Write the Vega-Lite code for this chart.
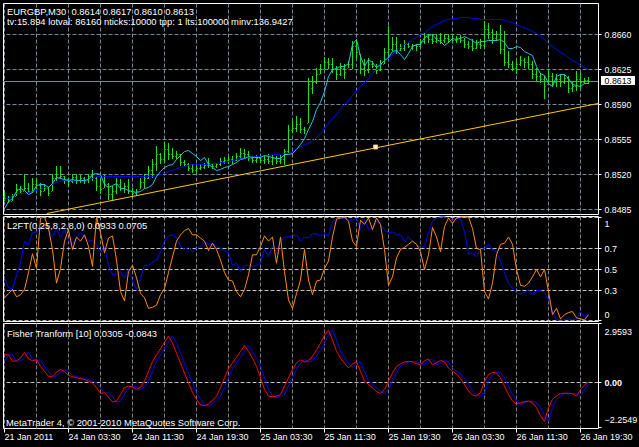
{
  "$schema": "https://vega.github.io/schema/vega-lite/v5.json",
  "background": "black",
  "padding": {"left": 2, "top": 2, "right": 5, "bottom": 7},
  "spacing": 2,
  "bounds": "flush",
  "config": {
    "view": {"stroke": "white", "strokeWidth": 1},
    "font": "Liberation Sans",
    "axis": {"title": null, "domain": false, "labelColor": "white", "labelFont": "Liberation Sans", "labelFontSize": 9, "tickColor": "white", "gridDash": [4, 2], "gridWidth": 1, "labelOverlap": false, "labelBound": false, "labelFlush": false},
    "text": {"font": "Liberation Sans", "fontSize": 9.4, "color": "white", "align": "left", "baseline": "middle"}
  },
  "datasets": {
    "bars": [
{"i":0,"high":0.8502,"low":0.8493,"open":0.8498,"close":0.8496,"fast":0.8486,"slow":0.8495,"l2ft":0.23,"l2sig":0.42,"fisher":1.39,"signal":1.06},
{"i":1,"high":0.8498,"low":0.8491,"open":0.8496,"close":0.8493,"fast":0.8493,"slow":0.8496,"l2ft":0.27,"l2sig":0.33,"fisher":1.39,"signal":1.39},
{"i":2,"high":0.85,"low":0.8493,"open":0.8493,"close":0.8498,"fast":0.8496,"slow":0.8499,"l2ft":0.31,"l2sig":0.31,"fisher":1.06,"signal":1.39},
{"i":3,"high":0.851,"low":0.8498,"open":0.8498,"close":0.8505,"fast":0.8503,"slow":0.8501,"l2ft":0.24,"l2sig":0.45,"fisher":1.09,"signal":1.06},
{"i":4,"high":0.8508,"low":0.8501,"open":0.8505,"close":0.8503,"fast":0.8506,"slow":0.8501,"l2ft":0.26,"l2sig":0.56,"fisher":1.22,"signal":1.09},
{"i":5,"high":0.852,"low":0.8503,"open":0.8503,"close":0.8506,"fast":0.8504,"slow":0.8501,"l2ft":0.31,"l2sig":0.77,"fisher":1.52,"signal":1.22},
{"i":6,"high":0.8511,"low":0.8501,"open":0.8506,"close":0.8503,"fast":0.85,"slow":0.8502,"l2ft":0.47,"l2sig":0.74,"fisher":1.19,"signal":1.52},
{"i":7,"high":0.8516,"low":0.8501,"open":0.8503,"close":0.851,"fast":0.8502,"slow":0.8503,"l2ft":0.65,"l2sig":0.85,"fisher":1.09,"signal":1.19},
{"i":8,"high":0.8516,"low":0.8505,"open":0.851,"close":0.8509,"fast":0.8509,"slow":0.8504,"l2ft":0.51,"l2sig":0.86,"fisher":1.14,"signal":1.09},
{"i":9,"high":0.8511,"low":0.8498,"open":0.8509,"close":0.8503,"fast":0.851,"slow":0.8505,"l2ft":0.99,"l2sig":0.88,"fisher":0.81,"signal":1.14},
{"i":10,"high":0.851,"low":0.8503,"open":0.8503,"close":0.8506,"fast":0.851,"slow":0.8507,"l2ft":1.0,"l2sig":0.91,"fisher":0.56,"signal":0.81},
{"i":11,"high":0.8508,"low":0.8498,"open":0.8506,"close":0.8501,"fast":0.8507,"slow":0.8508,"l2ft":0.89,"l2sig":0.88,"fisher":0.31,"signal":0.56},
{"i":12,"high":0.852,"low":0.8503,"open":0.8503,"close":0.8516,"fast":0.8511,"slow":0.851,"l2ft":0.69,"l2sig":0.81,"fisher":0.31,"signal":0.31},
{"i":13,"high":0.8528,"low":0.8513,"open":0.8516,"close":0.8517,"fast":0.8517,"slow":0.8512,"l2ft":0.37,"l2sig":0.89,"fisher":0.53,"signal":0.31},
{"i":14,"high":0.8528,"low":0.8516,"open":0.8517,"close":0.8518,"fast":0.8516,"slow":0.8513,"l2ft":0.51,"l2sig":0.8,"fisher":0.65,"signal":0.53},
{"i":15,"high":0.8518,"low":0.851,"open":0.8518,"close":0.8515,"fast":0.8515,"slow":0.8514,"l2ft":0.77,"l2sig":0.88,"fisher":0.56,"signal":0.65},
{"i":16,"high":0.8516,"low":0.8508,"open":0.8515,"close":0.8513,"fast":0.8514,"slow":0.8514,"l2ft":0.88,"l2sig":0.77,"fisher":0.35,"signal":0.56},
{"i":17,"high":0.852,"low":0.8511,"open":0.8513,"close":0.8517,"fast":0.8515,"slow":0.8514,"l2ft":0.69,"l2sig":0.74,"fisher":0.3,"signal":0.35},
{"i":18,"high":0.852,"low":0.851,"open":0.8517,"close":0.8514,"fast":0.8514,"slow":0.8514,"l2ft":0.81,"l2sig":0.81,"fisher":0.23,"signal":0.3},
{"i":19,"high":0.8519,"low":0.8511,"open":0.8514,"close":0.8516,"fast":0.8514,"slow":0.8514,"l2ft":0.77,"l2sig":0.85,"fisher":0.2,"signal":0.23},
{"i":20,"high":0.8517,"low":0.851,"open":0.8516,"close":0.8514,"fast":0.8514,"slow":0.8514,"l2ft":0.83,"l2sig":0.81,"fisher":0.15,"signal":0.2},
{"i":21,"high":0.852,"low":0.8511,"open":0.8514,"close":0.8518,"fast":0.8515,"slow":0.8515,"l2ft":0.72,"l2sig":0.77,"fisher":0.07,"signal":0.15},
{"i":22,"high":0.8524,"low":0.8513,"open":0.8518,"close":0.852,"fast":0.852,"slow":0.8516,"l2ft":0.53,"l2sig":0.78,"fisher":-0.02,"signal":0.07},
{"i":23,"high":0.8517,"low":0.8503,"open":0.8516,"close":0.8508,"fast":0.8521,"slow":0.8518,"l2ft":1.0,"l2sig":0.74,"fisher":-0.26,"signal":-0.02},
{"i":24,"high":0.8516,"low":0.85,"open":0.8508,"close":0.8505,"fast":0.852,"slow":0.8518,"l2ft":0.85,"l2sig":0.66,"fisher":-0.55,"signal":-0.26},
{"i":25,"high":0.852,"low":0.8506,"open":0.8506,"close":0.851,"fast":0.851,"slow":0.8518,"l2ft":0.66,"l2sig":0.72,"fisher":-0.51,"signal":-0.55},
{"i":26,"high":0.8511,"low":0.8494,"open":0.851,"close":0.85,"fast":0.8507,"slow":0.8518,"l2ft":0.8,"l2sig":0.54,"fisher":-0.73,"signal":-0.51},
{"i":27,"high":0.8508,"low":0.8493,"open":0.85,"close":0.8503,"fast":0.8509,"slow":0.8518,"l2ft":0.82,"l2sig":0.45,"fisher":-0.98,"signal":-0.73},
{"i":28,"high":0.8516,"low":0.85,"open":0.8503,"close":0.851,"fast":0.8511,"slow":0.8518,"l2ft":0.59,"l2sig":0.46,"fisher":-0.93,"signal":-0.98},
{"i":29,"high":0.8515,"low":0.8503,"open":0.851,"close":0.8506,"fast":0.8506,"slow":0.8518,"l2ft":0.29,"l2sig":0.48,"fisher":-0.6,"signal":-0.93},
{"i":30,"high":0.8511,"low":0.8501,"open":0.8506,"close":0.8508,"fast":0.8506,"slow":0.8518,"l2ft":0.2,"l2sig":0.42,"fisher":-0.26,"signal":-0.6},
{"i":31,"high":0.8515,"low":0.85,"open":0.8508,"close":0.8503,"fast":0.8504,"slow":0.8518,"l2ft":0.48,"l2sig":0.5,"fisher":-0.18,"signal":-0.26},
{"i":32,"high":0.8506,"low":0.8498,"open":0.8503,"close":0.8501,"fast":0.8503,"slow":0.8518,"l2ft":0.54,"l2sig":0.39,"fisher":-0.23,"signal":-0.18},
{"i":33,"high":0.8505,"low":0.8498,"open":0.8501,"close":0.8503,"fast":0.8502,"slow":0.8518,"l2ft":0.42,"l2sig":0.31,"fisher":-0.35,"signal":-0.23},
{"i":34,"high":0.8516,"low":0.8505,"open":0.8505,"close":0.8512,"fast":0.8503,"slow":0.8518,"l2ft":0.27,"l2sig":0.42,"fisher":-0.23,"signal":-0.35},
{"i":35,"high":0.852,"low":0.8506,"open":0.8512,"close":0.8516,"fast":0.8506,"slow":0.8518,"l2ft":0.23,"l2sig":0.54,"fisher":0.07,"signal":-0.23},
{"i":36,"high":0.8528,"low":0.8515,"open":0.8516,"close":0.8524,"fast":0.8507,"slow":0.8518,"l2ft":0.13,"l2sig":0.54,"fisher":0.56,"signal":0.07},
{"i":37,"high":0.8535,"low":0.8516,"open":0.8524,"close":0.853,"fast":0.851,"slow":0.8518,"l2ft":0.14,"l2sig":0.57,"fisher":1.06,"signal":0.56},
{"i":38,"high":0.8548,"low":0.8523,"open":0.853,"close":0.854,"fast":0.8518,"slow":0.8519,"l2ft":0.16,"l2sig":0.59,"fisher":1.39,"signal":1.06},
{"i":39,"high":0.8541,"low":0.853,"open":0.854,"close":0.8535,"fast":0.8523,"slow":0.852,"l2ft":0.26,"l2sig":0.67,"fisher":1.69,"signal":1.39},
{"i":40,"high":0.8552,"low":0.8531,"open":0.8535,"close":0.8545,"fast":0.8527,"slow":0.8521,"l2ft":0.32,"l2sig":0.77,"fisher":2.02,"signal":1.69},
{"i":41,"high":0.8551,"low":0.8534,"open":0.8545,"close":0.854,"fast":0.8529,"slow":0.8523,"l2ft":0.47,"l2sig":0.82,"fisher":2.33,"signal":2.02},
{"i":42,"high":0.8546,"low":0.8535,"open":0.854,"close":0.8538,"fast":0.853,"slow":0.8524,"l2ft":0.62,"l2sig":0.83,"fisher":1.97,"signal":2.33},
{"i":43,"high":0.8543,"low":0.8535,"open":0.8538,"close":0.854,"fast":0.8535,"slow":0.8526,"l2ft":0.77,"l2sig":0.8,"fisher":1.47,"signal":1.97},
{"i":44,"high":0.854,"low":0.8528,"open":0.854,"close":0.8532,"fast":0.8539,"slow":0.8527,"l2ft":0.83,"l2sig":0.72,"fisher":0.98,"signal":1.47},
{"i":45,"high":0.8534,"low":0.8528,"open":0.8532,"close":0.853,"fast":0.8543,"slow":0.8528,"l2ft":0.87,"l2sig":0.69,"fisher":0.48,"signal":0.98},
{"i":46,"high":0.8531,"low":0.8523,"open":0.853,"close":0.8526,"fast":0.8544,"slow":0.8529,"l2ft":0.89,"l2sig":0.71,"fisher":-0.02,"signal":0.48},
{"i":47,"high":0.853,"low":0.8521,"open":0.8526,"close":0.8524,"fast":0.8541,"slow":0.853,"l2ft":0.83,"l2sig":0.67,"fisher":-0.51,"signal":-0.02},
{"i":48,"high":0.853,"low":0.8521,"open":0.8524,"close":0.8526,"fast":0.8538,"slow":0.853,"l2ft":0.83,"l2sig":0.7,"fisher":-0.84,"signal":-0.51},
{"i":49,"high":0.853,"low":0.8524,"open":0.8526,"close":0.8527,"fast":0.8534,"slow":0.853,"l2ft":0.8,"l2sig":0.72,"fisher":-1.13,"signal":-0.84},
{"i":50,"high":0.8531,"low":0.8525,"open":0.8527,"close":0.8529,"fast":0.8537,"slow":0.853,"l2ft":0.77,"l2sig":0.77,"fisher":-1.16,"signal":-1.13},
{"i":51,"high":0.8536,"low":0.8526,"open":0.8529,"close":0.8531,"fast":0.853,"slow":0.853,"l2ft":0.68,"l2sig":0.74,"fisher":-1.09,"signal":-1.16},
{"i":52,"high":0.853,"low":0.8525,"open":0.853,"close":0.8528,"fast":0.8527,"slow":0.8531,"l2ft":0.75,"l2sig":0.75,"fisher":-0.89,"signal":-1.09},
{"i":53,"high":0.8531,"low":0.8526,"open":0.8528,"close":0.853,"fast":0.8524,"slow":0.8531,"l2ft":0.69,"l2sig":0.72,"fisher":-0.68,"signal":-0.89},
{"i":54,"high":0.8536,"low":0.8528,"open":0.853,"close":0.8533,"fast":0.8525,"slow":0.8532,"l2ft":0.59,"l2sig":0.7,"fisher":-0.26,"signal":-0.68},
{"i":55,"high":0.8537,"low":0.853,"open":0.8533,"close":0.8534,"fast":0.8527,"slow":0.8532,"l2ft":0.47,"l2sig":0.68,"fisher":0.23,"signal":-0.26},
{"i":56,"high":0.8538,"low":0.853,"open":0.8534,"close":0.8535,"fast":0.8528,"slow":0.8533,"l2ft":0.4,"l2sig":0.66,"fisher":0.7,"signal":0.23},
{"i":57,"high":0.8538,"low":0.853,"open":0.8535,"close":0.8534,"fast":0.853,"slow":0.8534,"l2ft":0.39,"l2sig":0.54,"fisher":0.98,"signal":0.7},
{"i":58,"high":0.8541,"low":0.8533,"open":0.8534,"close":0.8538,"fast":0.8532,"slow":0.8535,"l2ft":0.29,"l2sig":0.56,"fisher":1.26,"signal":0.98},
{"i":59,"high":0.8546,"low":0.8535,"open":0.8538,"close":0.8541,"fast":0.8535,"slow":0.8536,"l2ft":0.24,"l2sig":0.48,"fisher":1.56,"signal":1.26},
{"i":60,"high":0.8545,"low":0.8536,"open":0.8541,"close":0.854,"fast":0.8536,"slow":0.8536,"l2ft":0.31,"l2sig":0.54,"fisher":1.85,"signal":1.56},
{"i":61,"high":0.8543,"low":0.8533,"open":0.854,"close":0.8536,"fast":0.8538,"slow":0.8537,"l2ft":0.45,"l2sig":0.54,"fisher":1.56,"signal":1.85},
{"i":62,"high":0.8538,"low":0.8531,"open":0.8536,"close":0.8534,"fast":0.8537,"slow":0.8538,"l2ft":0.64,"l2sig":0.53,"fisher":1.22,"signal":1.56},
{"i":63,"high":0.8539,"low":0.8531,"open":0.8534,"close":0.8536,"fast":0.8537,"slow":0.8538,"l2ft":0.64,"l2sig":0.54,"fisher":0.81,"signal":1.22},
{"i":64,"high":0.8538,"low":0.8531,"open":0.8536,"close":0.8534,"fast":0.8537,"slow":0.8538,"l2ft":0.72,"l2sig":0.56,"fisher":0.23,"signal":0.81},
{"i":65,"high":0.8538,"low":0.853,"open":0.8534,"close":0.8535,"fast":0.8539,"slow":0.8539,"l2ft":0.82,"l2sig":0.7,"fisher":-0.35,"signal":0.23},
{"i":66,"high":0.854,"low":0.853,"open":0.8535,"close":0.8533,"fast":0.8538,"slow":0.8539,"l2ft":0.77,"l2sig":0.62,"fisher":-0.68,"signal":-0.35},
{"i":67,"high":0.8539,"low":0.8529,"open":0.8533,"close":0.8536,"fast":0.8537,"slow":0.854,"l2ft":0.81,"l2sig":0.72,"fisher":-0.71,"signal":-0.68},
{"i":68,"high":0.8538,"low":0.853,"open":0.8536,"close":0.8533,"fast":0.8536,"slow":0.854,"l2ft":0.56,"l2sig":0.66,"fisher":-0.68,"signal":-0.71},
{"i":69,"high":0.8539,"low":0.853,"open":0.8533,"close":0.8535,"fast":0.8536,"slow":0.854,"l2ft":0.81,"l2sig":0.77,"fisher":-0.6,"signal":-0.68},
{"i":70,"high":0.8545,"low":0.8529,"open":0.8535,"close":0.8543,"fast":0.854,"slow":0.8541,"l2ft":0.48,"l2sig":0.81,"fisher":-0.18,"signal":-0.6},
{"i":71,"high":0.8569,"low":0.8541,"open":0.8543,"close":0.8564,"fast":0.854,"slow":0.8541,"l2ft":0.21,"l2sig":0.81,"fisher":0.23,"signal":-0.18},
{"i":72,"high":0.8574,"low":0.8561,"open":0.8564,"close":0.8566,"fast":0.8541,"slow":0.8542,"l2ft":0.13,"l2sig":0.82,"fisher":0.65,"signal":0.23},
{"i":73,"high":0.8578,"low":0.8562,"open":0.8566,"close":0.857,"fast":0.8545,"slow":0.8546,"l2ft":0.27,"l2sig":0.83,"fisher":0.98,"signal":0.65},
{"i":74,"high":0.8576,"low":0.8561,"open":0.857,"close":0.8565,"fast":0.855,"slow":0.8548,"l2ft":0.4,"l2sig":0.77,"fisher":1.14,"signal":0.98},
{"i":75,"high":0.8567,"low":0.856,"open":0.8565,"close":0.8564,"fast":0.8556,"slow":0.855,"l2ft":0.69,"l2sig":0.81,"fisher":1.03,"signal":1.14},
{"i":76,"high":0.8616,"low":0.8571,"open":0.8571,"close":0.861,"fast":0.8565,"slow":0.8551,"l2ft":0.4,"l2sig":0.8,"fisher":1.09,"signal":1.03},
{"i":77,"high":0.8618,"low":0.86,"open":0.8606,"close":0.8612,"fast":0.8573,"slow":0.8553,"l2ft":0.26,"l2sig":0.84,"fisher":1.31,"signal":1.09},
{"i":78,"high":0.8626,"low":0.861,"open":0.8612,"close":0.862,"fast":0.8585,"slow":0.8557,"l2ft":0.39,"l2sig":0.84,"fisher":1.64,"signal":1.31},
{"i":79,"high":0.863,"low":0.862,"open":0.862,"close":0.8625,"fast":0.8592,"slow":0.8561,"l2ft":0.4,"l2sig":0.82,"fisher":1.97,"signal":1.64},
{"i":80,"high":0.8637,"low":0.8625,"open":0.8625,"close":0.8632,"fast":0.8603,"slow":0.8566,"l2ft":0.51,"l2sig":0.84,"fisher":2.38,"signal":1.97},
{"i":81,"high":0.8636,"low":0.8625,"open":0.8632,"close":0.863,"fast":0.8618,"slow":0.8571,"l2ft":0.58,"l2sig":0.82,"fisher":2.63,"signal":2.38},
{"i":82,"high":0.8636,"low":0.8621,"open":0.863,"close":0.8625,"fast":0.8625,"slow":0.8576,"l2ft":0.81,"l2sig":0.96,"fisher":2.13,"signal":2.63},
{"i":83,"high":0.8628,"low":0.8614,"open":0.8625,"close":0.862,"fast":0.8626,"slow":0.858,"l2ft":0.98,"l2sig":0.99,"fisher":1.56,"signal":2.13},
{"i":84,"high":0.8631,"low":0.8618,"open":0.862,"close":0.8626,"fast":0.8628,"slow":0.8585,"l2ft":0.99,"l2sig":0.99,"fisher":1.22,"signal":1.56},
{"i":85,"high":0.863,"low":0.8615,"open":0.8626,"close":0.8622,"fast":0.8628,"slow":0.859,"l2ft":1.0,"l2sig":0.99,"fisher":0.98,"signal":1.22},
{"i":86,"high":0.8633,"low":0.8626,"open":0.8626,"close":0.863,"fast":0.8631,"slow":0.8594,"l2ft":0.96,"l2sig":0.97,"fisher":0.73,"signal":0.98},
{"i":87,"high":0.8653,"low":0.8625,"open":0.863,"close":0.8648,"fast":0.865,"slow":0.8599,"l2ft":0.77,"l2sig":0.97,"fisher":0.93,"signal":0.73},
{"i":88,"high":0.8655,"low":0.8636,"open":0.8648,"close":0.8642,"fast":0.8655,"slow":0.8604,"l2ft":0.72,"l2sig":0.99,"fisher":1.03,"signal":0.93},
{"i":89,"high":0.864,"low":0.862,"open":0.864,"close":0.8626,"fast":0.8638,"slow":0.8608,"l2ft":0.97,"l2sig":0.88,"fisher":0.56,"signal":1.03},
{"i":90,"high":0.8635,"low":0.8618,"open":0.8626,"close":0.8624,"fast":0.8628,"slow":0.8612,"l2ft":0.93,"l2sig":0.97,"fisher":0.07,"signal":0.56},
{"i":91,"high":0.8636,"low":0.8621,"open":0.8624,"close":0.863,"fast":0.8635,"slow":0.8616,"l2ft":0.99,"l2sig":0.88,"fisher":-0.1,"signal":0.07},
{"i":92,"high":0.8633,"low":0.8626,"open":0.863,"close":0.8628,"fast":0.8632,"slow":0.8621,"l2ft":0.88,"l2sig":0.89,"fisher":-0.26,"signal":-0.1},
{"i":93,"high":0.863,"low":0.862,"open":0.8628,"close":0.8624,"fast":0.8627,"slow":0.8625,"l2ft":0.99,"l2sig":0.96,"fisher":-0.46,"signal":-0.26},
{"i":94,"high":0.8634,"low":0.8623,"open":0.8624,"close":0.863,"fast":0.863,"slow":0.863,"l2ft":0.93,"l2sig":0.93,"fisher":-0.55,"signal":-0.46},
{"i":95,"high":0.8646,"low":0.863,"open":0.863,"close":0.8642,"fast":0.8634,"slow":0.8634,"l2ft":0.69,"l2sig":0.88,"fisher":-0.35,"signal":-0.55},
{"i":96,"high":0.8668,"low":0.8636,"open":0.8642,"close":0.8645,"fast":0.8637,"slow":0.8636,"l2ft":0.35,"l2sig":0.85,"fisher":0.07,"signal":-0.35},
{"i":97,"high":0.8657,"low":0.8643,"open":0.8645,"close":0.865,"fast":0.8643,"slow":0.864,"l2ft":0.43,"l2sig":0.86,"fisher":0.48,"signal":0.07},
{"i":98,"high":0.8657,"low":0.864,"open":0.865,"close":0.8644,"fast":0.8644,"slow":0.8644,"l2ft":0.61,"l2sig":0.83,"fisher":0.81,"signal":0.48},
{"i":99,"high":0.865,"low":0.8643,"open":0.8644,"close":0.8646,"fast":0.864,"slow":0.8647,"l2ft":0.69,"l2sig":0.83,"fisher":0.94,"signal":0.81},
{"i":100,"high":0.8654,"low":0.8643,"open":0.8646,"close":0.865,"fast":0.8635,"slow":0.865,"l2ft":0.71,"l2sig":0.77,"fisher":1.03,"signal":0.94},
{"i":101,"high":0.8651,"low":0.8646,"open":0.865,"close":0.8648,"fast":0.8641,"slow":0.8652,"l2ft":0.74,"l2sig":0.81,"fisher":1.06,"signal":1.03},
{"i":102,"high":0.865,"low":0.8644,"open":0.8648,"close":0.8649,"fast":0.8648,"slow":0.8655,"l2ft":0.77,"l2sig":0.76,"fisher":1.03,"signal":1.06},
{"i":103,"high":0.865,"low":0.8643,"open":0.8649,"close":0.8648,"fast":0.865,"slow":0.8657,"l2ft":0.74,"l2sig":0.74,"fisher":0.94,"signal":1.03},
{"i":104,"high":0.8655,"low":0.8646,"open":0.8648,"close":0.8653,"fast":0.865,"slow":0.866,"l2ft":0.67,"l2sig":0.71,"fisher":0.89,"signal":0.94},
{"i":105,"high":0.8661,"low":0.865,"open":0.8653,"close":0.8657,"fast":0.8657,"slow":0.8662,"l2ft":0.5,"l2sig":0.72,"fisher":1.09,"signal":0.89},
{"i":106,"high":0.866,"low":0.8651,"open":0.8657,"close":0.8655,"fast":0.8659,"slow":0.8665,"l2ft":0.64,"l2sig":0.85,"fisher":1.18,"signal":1.09},
{"i":107,"high":0.866,"low":0.865,"open":0.8655,"close":0.8653,"fast":0.866,"slow":0.8668,"l2ft":0.9,"l2sig":0.96,"fisher":0.89,"signal":1.18},
{"i":108,"high":0.866,"low":0.8651,"open":0.8653,"close":0.8656,"fast":0.8655,"slow":0.867,"l2ft":0.81,"l2sig":0.99,"fisher":0.98,"signal":0.89},
{"i":109,"high":0.8661,"low":0.865,"open":0.8656,"close":0.8654,"fast":0.8653,"slow":0.8672,"l2ft":0.67,"l2sig":1.0,"fisher":1.11,"signal":0.98},
{"i":110,"high":0.866,"low":0.8651,"open":0.8654,"close":0.8656,"fast":0.8649,"slow":0.8674,"l2ft":0.91,"l2sig":1.0,"fisher":1.03,"signal":1.11},
{"i":111,"high":0.866,"low":0.8651,"open":0.8656,"close":0.8655,"fast":0.8652,"slow":0.8675,"l2ft":0.99,"l2sig":0.99,"fisher":0.73,"signal":1.03},
{"i":112,"high":0.866,"low":0.8651,"open":0.8655,"close":0.8654,"fast":0.8656,"slow":0.8676,"l2ft":0.94,"l2sig":0.97,"fisher":0.56,"signal":0.73},
{"i":113,"high":0.8658,"low":0.8651,"open":0.8654,"close":0.8656,"fast":0.8655,"slow":0.8676,"l2ft":0.99,"l2sig":0.99,"fisher":0.43,"signal":0.56},
{"i":114,"high":0.8659,"low":0.8651,"open":0.8656,"close":0.8654,"fast":0.8656,"slow":0.8677,"l2ft":1.0,"l2sig":0.98,"fisher":0.2,"signal":0.43},
{"i":115,"high":0.8656,"low":0.8646,"open":0.8654,"close":0.865,"fast":0.8658,"slow":0.8677,"l2ft":1.0,"l2sig":0.86,"fisher":-0.1,"signal":0.2},
{"i":116,"high":0.8653,"low":0.8645,"open":0.865,"close":0.8648,"fast":0.8656,"slow":0.8677,"l2ft":1.0,"l2sig":0.65,"fisher":-0.43,"signal":-0.1},
{"i":117,"high":0.8655,"low":0.8643,"open":0.8648,"close":0.8646,"fast":0.8654,"slow":0.8676,"l2ft":0.89,"l2sig":0.66,"fisher":-0.63,"signal":-0.43},
{"i":118,"high":0.8654,"low":0.8645,"open":0.8646,"close":0.865,"fast":0.8651,"slow":0.8676,"l2ft":0.7,"l2sig":0.62,"fisher":-0.68,"signal":-0.63},
{"i":119,"high":0.8655,"low":0.8645,"open":0.865,"close":0.8649,"fast":0.8653,"slow":0.8675,"l2ft":0.69,"l2sig":0.69,"fisher":-0.51,"signal":-0.68},
{"i":120,"high":0.8673,"low":0.8646,"open":0.8649,"close":0.8665,"fast":0.8653,"slow":0.8675,"l2ft":0.29,"l2sig":0.7,"fisher":0.07,"signal":-0.51},
{"i":121,"high":0.8671,"low":0.8655,"open":0.8665,"close":0.8662,"fast":0.8654,"slow":0.8675,"l2ft":0.22,"l2sig":0.74,"fisher":0.4,"signal":0.07},
{"i":122,"high":0.8665,"low":0.865,"open":0.8662,"close":0.8656,"fast":0.8654,"slow":0.8675,"l2ft":0.37,"l2sig":0.69,"fisher":0.51,"signal":0.4},
{"i":123,"high":0.8663,"low":0.8653,"open":0.8656,"close":0.866,"fast":0.8654,"slow":0.8675,"l2ft":0.64,"l2sig":0.67,"fisher":0.48,"signal":0.51},
{"i":124,"high":0.8669,"low":0.864,"open":0.866,"close":0.8645,"fast":0.8655,"slow":0.8675,"l2ft":0.74,"l2sig":0.58,"fisher":0.23,"signal":0.48},
{"i":125,"high":0.8663,"low":0.8628,"open":0.8645,"close":0.8632,"fast":0.8652,"slow":0.8674,"l2ft":0.75,"l2sig":0.47,"fisher":-0.18,"signal":0.23},
{"i":126,"high":0.8643,"low":0.8626,"open":0.8632,"close":0.863,"fast":0.8646,"slow":0.8673,"l2ft":0.81,"l2sig":0.37,"fisher":-0.6,"signal":-0.18},
{"i":127,"high":0.8633,"low":0.8623,"open":0.863,"close":0.8626,"fast":0.8646,"slow":0.8672,"l2ft":0.74,"l2sig":0.32,"fisher":-0.93,"signal":-0.6},
{"i":128,"high":0.8633,"low":0.862,"open":0.8626,"close":0.863,"fast":0.8648,"slow":0.867,"l2ft":0.5,"l2sig":0.27,"fisher":-1.09,"signal":-0.93},
{"i":129,"high":0.8638,"low":0.8628,"open":0.863,"close":0.8634,"fast":0.8647,"slow":0.8668,"l2ft":0.35,"l2sig":0.27,"fisher":-1.01,"signal":-1.09},
{"i":130,"high":0.8636,"low":0.8626,"open":0.8634,"close":0.8632,"fast":0.8643,"slow":0.8667,"l2ft":0.34,"l2sig":0.28,"fisher":-0.96,"signal":-1.01},
{"i":131,"high":0.8638,"low":0.8625,"open":0.8632,"close":0.863,"fast":0.8641,"slow":0.8665,"l2ft":0.37,"l2sig":0.31,"fisher":-0.93,"signal":-0.96},
{"i":132,"high":0.8633,"low":0.8615,"open":0.863,"close":0.862,"fast":0.8639,"slow":0.8663,"l2ft":0.43,"l2sig":0.26,"fisher":-1.01,"signal":-0.93},
{"i":133,"high":0.8626,"low":0.8613,"open":0.862,"close":0.8618,"fast":0.8628,"slow":0.8661,"l2ft":0.5,"l2sig":0.3,"fisher":-1.26,"signal":-1.01},
{"i":134,"high":0.8621,"low":0.8611,"open":0.8618,"close":0.8615,"fast":0.8621,"slow":0.8658,"l2ft":0.43,"l2sig":0.3,"fisher":-1.67,"signal":-1.26},
{"i":135,"high":0.8618,"low":0.8595,"open":0.8615,"close":0.8608,"fast":0.8619,"slow":0.8655,"l2ft":0.5,"l2sig":0.28,"fisher":-1.95,"signal":-1.67},
{"i":136,"high":0.8625,"low":0.861,"open":0.861,"close":0.8618,"fast":0.8611,"slow":0.8651,"l2ft":0.29,"l2sig":0.21,"fisher":-1.26,"signal":-1.95},
{"i":137,"high":0.8621,"low":0.8607,"open":0.8618,"close":0.8612,"fast":0.8608,"slow":0.8648,"l2ft":0.07,"l2sig":0.1,"fisher":-0.84,"signal":-1.26},
{"i":138,"high":0.862,"low":0.8607,"open":0.8612,"close":0.8615,"fast":0.8618,"slow":0.8645,"l2ft":0.13,"l2sig":0.02,"fisher":-0.68,"signal":-0.84},
{"i":139,"high":0.862,"low":0.8607,"open":0.8615,"close":0.8612,"fast":0.862,"slow":0.8642,"l2ft":0.03,"l2sig":0.02,"fisher":-0.56,"signal":-0.68},
{"i":140,"high":0.862,"low":0.861,"open":0.8612,"close":0.8616,"fast":0.862,"slow":0.864,"l2ft":0.07,"l2sig":0.02,"fisher":-0.53,"signal":-0.56},
{"i":141,"high":0.8618,"low":0.8601,"open":0.8616,"close":0.8606,"fast":0.8616,"slow":0.8637,"l2ft":0.09,"l2sig":0.03,"fisher":-0.55,"signal":-0.53},
{"i":142,"high":0.8613,"low":0.8602,"open":0.8606,"close":0.8608,"fast":0.861,"slow":0.8634,"l2ft":0.1,"l2sig":0.02,"fisher":-0.56,"signal":-0.55},
{"i":143,"high":0.8623,"low":0.8603,"open":0.8608,"close":0.8615,"fast":0.8609,"slow":0.8632,"l2ft":0.04,"l2sig":0.03,"fisher":-0.68,"signal":-0.56},
{"i":144,"high":0.8621,"low":0.8605,"open":0.8615,"close":0.8612,"fast":0.8608,"slow":0.8629,"l2ft":0.03,"l2sig":0.1,"fisher":-0.35,"signal":-0.68},
{"i":145,"high":0.8616,"low":0.861,"open":0.8612,"close":0.8614,"fast":0.8611,"slow":0.8627,"l2ft":0.02,"l2sig":0.05,"fisher":-0.13,"signal":-0.35},
{"i":146,"high":0.8617,"low":0.861,"open":0.8614,"close":0.8613,"fast":0.8611,"slow":0.8625,"l2ft":0.07,"l2sig":0.09,"fisher":0.03,"signal":-0.08}
    ]
  },
  "vconcat": [
    {
      "width": 595,
      "height": 211,
      "data": {"name": "bars"},
      "layer": [
        {
          "data": {"values": [{"last": 0.8613}]},
          "mark": {"type": "rule", "color": "#778899", "yOffset": 0.5},
          "encoding": {
            "x": {"datum": -0.25, "type": "quantitative", "scale": {"domain": [-0.25, 148.5], "nice": false, "zero": false},
              "axis": {"values": [0, 8, 16, 24, 32, 40, 48, 56, 64, 72, 80, 88, 96, 104, 112, 120, 128, 136, 144], "tickCount": 30, "labels": false, "ticks": false, "grid": true, "gridColor": "#778899"}},
            "x2": {"datum": 148.5},
            "y": {"field": "last", "type": "quantitative", "scale": {"domain": [0.848, 0.8691], "nice": false, "zero": false},
              "axis": {"orient": "right", "values": [0.8485, 0.852, 0.8555, 0.859, 0.8625, 0.866], "tickCount": 10, "format": ".4f", "grid": true, "gridColor": "#778899", "tickSize": 3, "labelPadding": 3, "labelFontSize": 8.8}}
          }
        },
        {
          "mark": {"type": "rule", "color": "#1fe01f", "xOffset": 0.5},
          "encoding": {"x": {"field": "i", "type": "quantitative"}, "y": {"field": "low", "type": "quantitative"}, "y2": {"field": "high"}}
        },
        {
          "mark": {"type": "tick", "orient": "horizontal", "color": "#1fe01f", "size": 1, "thickness": 1, "xOffset": -0.5, "yOffset": 0.5},
          "encoding": {"x": {"field": "i", "type": "quantitative"}, "y": {"field": "open", "type": "quantitative"}}
        },
        {
          "mark": {"type": "tick", "orient": "horizontal", "color": "#1fe01f", "size": 1, "thickness": 1, "xOffset": 1.5, "yOffset": 0.5},
          "encoding": {"x": {"field": "i", "type": "quantitative"}, "y": {"field": "close", "type": "quantitative"}}
        },
        {
          "mark": {"type": "line", "color": "#0000ff", "strokeWidth": 1, "xOffset": 0.5, "yOffset": 0.5},
          "encoding": {"x": {"field": "i", "type": "quantitative"}, "y": {"field": "slow", "type": "quantitative"}}
        },
        {
          "mark": {"type": "line", "color": "#1ec3f0", "strokeWidth": 1, "xOffset": 0.5, "yOffset": 0.5},
          "encoding": {"x": {"field": "i", "type": "quantitative"}, "y": {"field": "fast", "type": "quantitative"}}
        },
        {
          "data": {"values": [{"i": 10.7, "trend": 0.84805}, {"i": 148.5, "trend": 0.85905}]},
          "mark": {"type": "line", "color": "#ffcc00", "strokeWidth": 1},
          "encoding": {"x": {"field": "i", "type": "quantitative"}, "y": {"field": "trend", "type": "quantitative"}}
        },
        {
          "data": {"values": [{"i": 92.9, "trend": 0.8547}]},
          "mark": {"type": "point", "shape": "square", "size": 16, "filled": true, "fill": "white", "stroke": "#ffcc00", "strokeWidth": 1, "opacity": 1},
          "encoding": {"x": {"field": "i", "type": "quantitative"}, "y": {"field": "trend", "type": "quantitative"}}
        },
        {
          "data": {"values": [{"label": "EURGBP,M30 \u00a00.8614 0.8617 0.8610 0.8613"}]},
          "mark": {"type": "text"},
          "encoding": {"x": {"datum": 0.75}, "y": {"datum": 0.86825}, "text": {"field": "label"}}
        },
        {
          "data": {"values": [{"label": "tv:15.894 lotval: 86160 nticks:10000 tpp: 1 lts:100000 minv:136.9427"}]},
          "mark": {"type": "text"},
          "encoding": {"x": {"datum": 0.75}, "y": {"datum": 0.86725}, "text": {"field": "label"}}
        },
        {
          "data": {"values": [{"last": 0.8613}]},
          "mark": {"type": "rect", "color": "white"},
          "encoding": {"x": {"datum": 149.25}, "x2": {"datum": 157.75}, "y": {"datum": 0.8618}, "y2": {"datum": 0.8609}}
        },
        {
          "data": {"values": [{"last": "0.8613"}]},
          "mark": {"type": "text", "color": "black", "align": "center", "fontSize": 8.8},
          "encoding": {"x": {"datum": 153.5}, "y": {"datum": 0.8613}, "text": {"field": "last"}}
        }
      ]
    },
    {
      "width": 595,
      "height": 105,
      "data": {"name": "bars"},
      "layer": [
        {
          "mark": {"type": "line", "color": "#0000ff", "strokeWidth": 1, "xOffset": 0.5, "yOffset": 0.5},
          "encoding": {
            "x": {"field": "i", "type": "quantitative", "scale": {"domain": [-0.25, 148.5], "nice": false, "zero": false},
              "axis": {"values": [0, 8, 16, 24, 32, 40, 48, 56, 64, 72, 80, 88, 96, 104, 112, 120, 128, 136, 144], "tickCount": 30, "labels": false, "ticks": false, "grid": true, "gridColor": "#808080"}},
            "y": {"field": "l2sig", "type": "quantitative", "scale": {"domain": [0.0048, 1.0048], "nice": false, "zero": false},
              "axis": {"orient": "right", "values": [0.0143, 0.3, 0.5, 0.7, 1], "tickCount": 10, "grid": true, "gridColor": "#c0c0c0", "tickSize": 3, "labelPadding": 3,
                "labelExpr": "datum.value < 0.1 ? '0' : datum.value == 1 ? '1' : format(datum.value, '.1f')",
                "labelOffset": {"condition": [{"test": "datum.value == 1", "value": 7}, {"test": "datum.value < 0.1", "value": -6}], "value": 0}}}
          }
        },
        {
          "mark": {"type": "line", "color": "#ff8c00", "strokeWidth": 1, "xOffset": 0.5, "yOffset": 0.5},
          "encoding": {"x": {"field": "i", "type": "quantitative"}, "y": {"field": "l2ft", "type": "quantitative"}}
        },
        {
          "data": {"values": [{"label": "L2FT(0.25,8,2,8,0) 0.0933 0.0705"}]},
          "mark": {"type": "text"},
          "encoding": {"x": {"datum": 0.75}, "y": {"datum": 0.906}, "text": {"field": "label"}}
        }
      ]
    },
    {
      "width": 595,
      "height": 105,
      "data": {"name": "bars"},
      "layer": [
        {
          "mark": {"type": "line", "color": "#0000ff", "strokeWidth": 1, "xOffset": 0.5, "yOffset": 0.5},
          "encoding": {
            "x": {"field": "i", "type": "quantitative", "scale": {"domain": [-0.25, 148.5], "nice": false, "zero": false},
              "axis": {"values": [0, 8, 16, 24, 32, 40, 48, 56, 64, 72, 80, 88, 96, 104, 112, 120, 128, 136, 144], "tickCount": 30, "grid": true, "gridColor": "#808080", "tickSize": 4, "labelAlign": "left", "labelPadding": 0,
                "tickOpacity": {"condition": {"test": "datum.value % 16 == 0", "value": 1}, "value": 0},
                "labelExpr": "datum.value % 16 == 0 ? ['21 Jan 2011', '24 Jan 03:30', '24 Jan 11:30', '24 Jan 19:30', '25 Jan 03:30', '25 Jan 11:30', '25 Jan 19:30', '26 Jan 03:30', '26 Jan 11:30', '26 Jan 19:30'][datum.value / 16] : ''"}},
            "y": {"field": "signal", "type": "quantitative", "scale": {"domain": [-2.307, 2.9593], "nice": false, "zero": false},
              "axis": {"orient": "right", "values": [-2.2549, 0, 2.9593], "tickCount": 10, "format": ".4f", "grid": true, "gridColor": "#c0c0c0", "tickSize": 3, "labelPadding": 3,
                "labelExpr": "datum.value == 0 ? '0.00' : datum.label",
                "gridOpacity": {"condition": {"test": "datum.value == 0", "value": 1}, "value": 0},
                "labelFontWeight": {"condition": {"test": "datum.value == 0", "value": "bold"}, "value": "normal"},
                "labelOffset": {"condition": [{"test": "datum.value > 1", "value": 8}, {"test": "datum.value < -1", "value": -7}], "value": 0}}}
          }
        },
        {
          "mark": {"type": "line", "color": "#ff0000", "strokeWidth": 1, "xOffset": 0.5, "yOffset": 0.5},
          "encoding": {"x": {"field": "i", "type": "quantitative"}, "y": {"field": "fisher", "type": "quantitative"}}
        },
        {
          "data": {"values": [{"label": "Fisher Tranform [10] 0.0305 -0.0843"}]},
          "mark": {"type": "text"},
          "encoding": {"x": {"datum": 0.75}, "y": {"datum": 2.42}, "text": {"field": "label"}}
        },
        {
          "data": {"values": [{"label": "MetaTrader 4, © 2001-2010 MetaQuotes Software Corp."}]},
          "mark": {"type": "text"},
          "encoding": {"x": {"datum": 0.5}, "y": {"datum": -2.04}, "text": {"field": "label"}}
        }
      ]
    }
  ]
}
